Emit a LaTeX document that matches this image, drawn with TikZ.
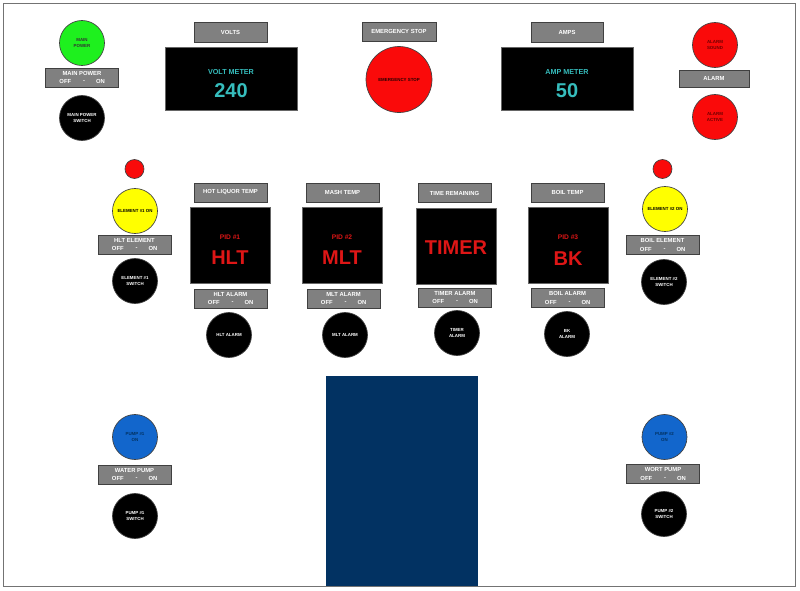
\documentclass[tikz,border=0pt]{standalone}
\usepackage{fontspec}
\setmainfont{Liberation Sans}
\definecolor{boxgray}{RGB}{128,128,128}
\definecolor{boxedge}{RGB}{64,64,64}
\definecolor{meterteal}{RGB}{54,189,189}
\definecolor{pidred}{RGB}{222,22,22}
\definecolor{lampgreen}{RGB}{30,240,30}
\definecolor{lampred}{RGB}{250,10,10}
\definecolor{lampyellow}{RGB}{255,255,0}
\definecolor{lampblue}{RGB}{18,102,204}
\definecolor{navy}{RGB}{2,50,98}
\definecolor{darkred}{RGB}{110,0,0}
\tikzset{
  x=0.75pt, y=-0.75pt,
  lbl/.style={draw=boxedge, fill=boxgray, line width=0.7pt, minimum width=54.75pt, minimum height=14.25pt, inner sep=0pt},
  lbltext/.style={text=white, font=\fontsize{4.4}{5}\bfseries, inner sep=0pt},
  meter/.style={fill=black, draw=black!60, line width=0.3pt, minimum width=99pt, minimum height=47.25pt, inner sep=0pt},
  pidbox/.style={fill=black, draw=black!60, line width=0.3pt, minimum width=60pt, minimum height=57pt, inner sep=0pt},
  lamp/.style={circle, draw=black!75, line width=0.5pt, minimum size=33.75pt, inner sep=0pt, align=center, font=\fontsize{3.3}{4}\bfseries},
  switchc/.style={lamp, fill=black, text=white},
  tiny/.style={circle, draw=black!75, line width=0.5pt, fill=lampred, minimum size=14.25pt, inner sep=0pt},
  mtext/.style={text=meterteal, inner sep=0pt, font=\fontsize{5.4}{6}\bfseries},
  mbig/.style={text=meterteal, inner sep=0pt, font=\fontsize{15}{16}\bfseries},
  ptext/.style={text=pidred, inner sep=0pt, font=\fontsize{5}{6}\bfseries},
  pbig/.style={text=pidred, inner sep=0pt, font=\fontsize{15}{16}\bfseries},
}
\newcommand{\switchlabel}[3]{%
  \node[lbl] (#1) at (#2) {};
  \node[lbltext] (#1t) at ([yshift=3.3pt]#1.center) {#3};
  \node[lbltext, anchor=center] (#1off) at ([xshift=-12.5pt,yshift=-3.1pt]#1.center) {OFF};
  \node[lbltext] (#1dash) at ([xshift=1.5pt,yshift=-3.1pt]#1.center) {-};
  \node[lbltext] (#1on) at ([xshift=13.9pt,yshift=-3.1pt]#1.center) {ON};
}
\begin{document}
\begin{tikzpicture}
\useasboundingbox (0,0) rectangle (800,590);
\fill[white] (0,0) rectangle (800,590);
\draw[black!55, line width=0.6pt] (3,3) rectangle (795,586);
% blue panel
\fill[navy] (326,376) rectangle (478,586);
\node[inner sep=0pt] (panel) at (402,481) {};

% main power
\node[lamp, fill=lampgreen, text=black!80] (mainlamp) at (82,43) {MAIN\\POWER};
\switchlabel{mainlbl}{82,77.5}{MAIN POWER}
\node[switchc] (mainsw) at (82,118) {MAIN POWER\\SWITCH};

% volts
\node[lbl, minimum height=15pt] (voltslbl) at (230.5,32) {};
\node[lbltext] (voltst) at (voltslbl.center) {VOLTS};
\node[meter] (voltm) at (231,78.5) {};
\node[mtext] (voltmt) at ([yshift=4.9pt]voltm.center) {VOLT METER};
\node[mbig] (voltv) at ([yshift=-9.4pt]voltm.center) {240};

% emergency stop
\node[lbl, minimum width=55.5pt] (estoplbl) at (399,31.5) {};
\node[lbltext] (estopt) at (estoplbl.center) {EMERGENCY STOP};
\node[lamp, fill=lampred, minimum size=49.5pt, text=black!85!red] (estop) at (399,79.5) {EMERGENCY STOP};

% amps
\node[lbl, minimum width=54pt, minimum height=15pt] (ampslbl) at (567,32) {};
\node[lbltext] (ampst) at (ampslbl.center) {AMPS};
\node[meter] (ampm) at (567,78.5) {};
\node[mtext] (ampmt) at ([yshift=4.9pt]ampm.center) {AMP METER};
\node[mbig] (ampv) at ([yshift=-9.4pt]ampm.center) {50};

% alarm
\node[lamp, fill=lampred, text=darkred] (alsound) at (715,45) {ALARM\\SOUND};
\node[lbl, minimum width=52.5pt, minimum height=12.75pt] (allbl) at (714,78.5) {};
\node[lbltext] (allblt) at (allbl.center) {ALARM};
\node[lamp, fill=lampred, text=darkred] (alactive) at (715,117) {ALARM\\ACTIVE};

% element 1
\node[tiny] (el1ind) at (134.5,169) {};
\node[lamp, fill=lampyellow, text=black] (el1lamp) at (135,211) {ELEMENT \#1 ON};
\switchlabel{el1lbl}{134.5,244.5}{HLT ELEMENT}
\node[switchc] (el1sw) at (135,281) {ELEMENT \#1\\SWITCH};

% element 2
\node[tiny] (el2ind) at (662.5,169) {};
\node[lamp, fill=lampyellow, text=black] (el2lamp) at (665,209) {ELEMENT \#2 ON};
\switchlabel{el2lbl}{662.5,245}{BOIL ELEMENT}
\node[switchc] (el2sw) at (664,282) {ELEMENT \#2\\SWITCH};

% PID column 1
\node[lbl] (t1lbl) at (230.5,192.5) {};
\node[lbltext] (t1t) at (t1lbl.center) {HOT LIQUOR TEMP};
\node[pidbox] (pid1) at (230,245) {};
\node[ptext] (pid1a) at ([yshift=6pt]pid1.center) {PID \#1};
\node[pbig] (pid1b) at ([yshift=-9.75pt]pid1.center) {HLT};
\switchlabel{a1lbl}{230.5,298.5}{HLT ALARM}
\node[switchc] (a1sw) at (229,335) {HLT ALARM};

% PID column 2
\node[lbl] (t2lbl) at (342.5,192.5) {};
\node[lbltext] (t2t) at (t2lbl.center) {MASH TEMP};
\node[pidbox] (pid2) at (342,245) {};
\node[ptext] (pid2a) at ([yshift=6pt]pid2.center) {PID \#2};
\node[pbig] (pid2b) at ([yshift=-9.75pt]pid2.center) {MLT};
\switchlabel{a2lbl}{343.5,298.5}{MLT ALARM}
\node[switchc] (a2sw) at (345,335) {MLT ALARM};

% timer column
\node[lbl] (t3lbl) at (454.5,193) {};
\node[lbltext] (t3t) at (t3lbl.center) {TIME REMAINING};
\node[pidbox] (timer) at (456,246) {};
\node[pbig] (timert) at ([yshift=-1.2pt]timer.center) {TIMER};
\switchlabel{a3lbl}{455,297.5}{TIMER ALARM}
\node[switchc] (a3sw) at (457,333) {TIMER\\ALARM};

% PID column 4
\node[lbl] (t4lbl) at (567.5,192.5) {};
\node[lbltext] (t4t) at (t4lbl.center) {BOIL TEMP};
\node[pidbox] (pid3) at (568,245.5) {};
\node[ptext] (pid3a) at ([yshift=6pt]pid3.center) {PID \#3};
\node[pbig] (pid3b) at ([yshift=-9.75pt]pid3.center) {BK};
\switchlabel{a4lbl}{567.5,298}{BOIL ALARM}
\node[switchc] (a4sw) at (567,334) {BK\\ALARM};

% pump 1
\node[lamp, fill=lampblue, text=navy] (p1lamp) at (135,437) {PUMP \#1\\ON};
\switchlabel{p1lbl}{134.5,474.5}{WATER PUMP}
\node[switchc] (p1sw) at (135,516) {PUMP \#1\\SWITCH};

% pump 2
\node[lamp, fill=lampblue, text=navy] (p2lamp) at (664.5,437) {PUMP \#2\\ON};
\switchlabel{p2lbl}{663,474}{WORT PUMP}
\node[switchc] (p2sw) at (664,514) {PUMP \#2\\SWITCH};
\end{tikzpicture}
\end{document}
